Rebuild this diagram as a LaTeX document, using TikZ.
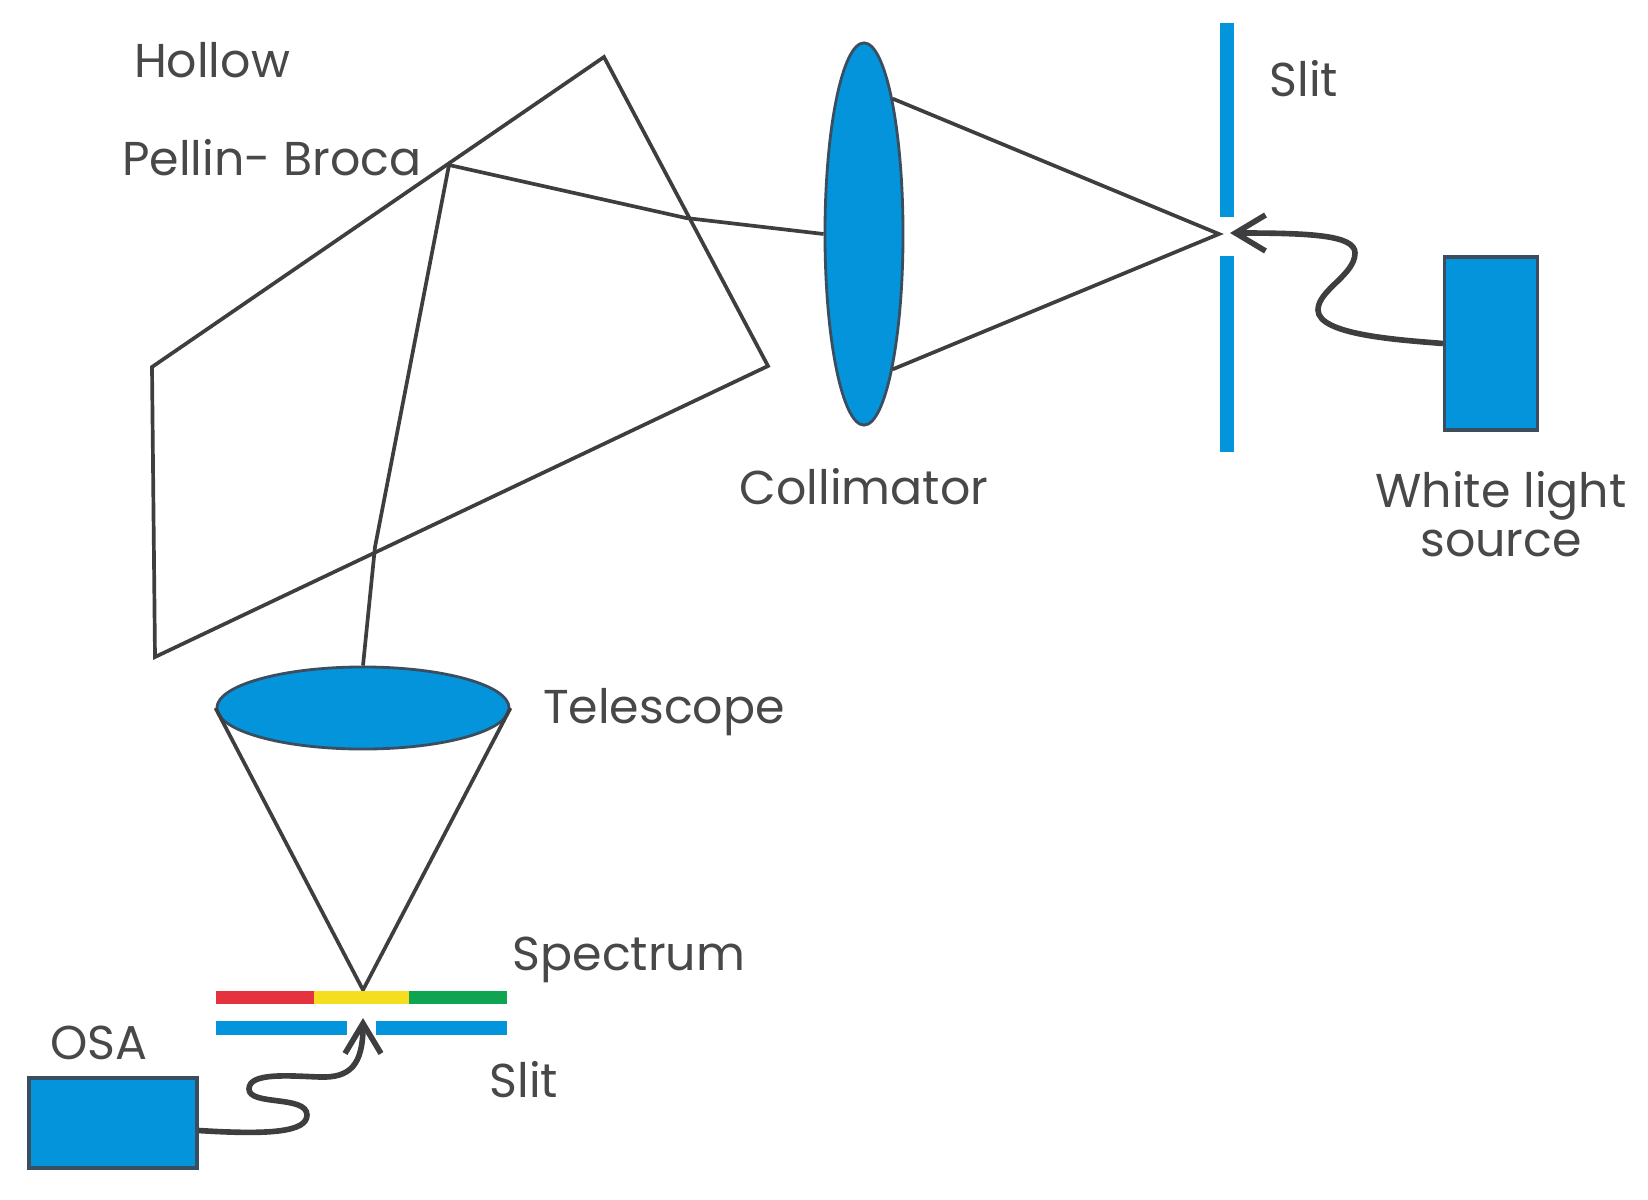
\documentclass[tikz,border=0pt]{standalone}
\usepackage{fontspec}
\setmainfont{Poppins}
\usepackage{xcolor}
\usetikzlibrary{positioning,arrows.meta,shapes.geometric}
\definecolor{optblue}{RGB}{4,148,220}
\definecolor{optedge}{RGB}{58,78,96}
\definecolor{rayline}{RGB}{62,62,64}
\definecolor{labelgray}{RGB}{72,72,74}
\definecolor{specred}{RGB}{228,50,62}
\definecolor{specyellow}{RGB}{245,222,30}
\definecolor{specgreen}{RGB}{14,164,82}

\begin{document}
\begin{tikzpicture}[
  x=0.01cm,y=-0.01cm,
  every node/.style={font=\fontsize{13.5}{14}\selectfont,text=labelgray},
  ray/.style={draw=rayline,line width=1.05pt,line join=miter},
  fibre/.style={draw=rayline,line width=1.6pt,-{Straight Barb[length=0.3cm,width=0.36cm,line width=1.6pt]}},
  lens/.style={ellipse,draw=optedge,line width=0.8pt,fill=optblue,inner sep=0pt},
  srcbox/.style={rectangle,draw=optedge,line width=0.9pt,fill=optblue,inner sep=0pt},
  slitbar/.style={draw=optblue,line width=0.14cm},
  specbar/.style={line width=0.13cm}
]
  \useasboundingbox (0,0) rectangle (1648,1200);

  % prism corners
  \coordinate (ptop)   at (604,57);
  \coordinate (pright) at (768,366);
  \coordinate (pbot)   at (155,657);
  \coordinate (pleft)  at (152,367);
  \coordinate (pbend)  at (449,165);
  \coordinate (pin)    at (686,218);
  \coordinate (pout)   at (375,547);
  \coordinate (focus)  at (1219,234);
  \coordinate (specmid) at (363,990);

  \draw[ray] (ptop)--(pright)--(pbot)--(pleft)--cycle;

  % optics
  \node[lens,minimum width=0.78cm,minimum height=3.82cm] (coll) at (864,234) {};
  \node[lens,minimum width=2.92cm,minimum height=0.82cm] (tele) at (363,708) {};
  \node[srcbox,minimum width=0.93cm,minimum height=1.73cm] (white) at (1491,343.5) {};
  \node[srcbox,minimum width=1.68cm,minimum height=0.90cm] (osa) at (113,1123) {};

  % rays
  \draw[ray] (coll.78)--(focus)--(coll.-78);
  \draw[ray] (coll.west)--(pin)--(pbend)--(pout)--(tele.north);
  \draw[ray] (tele.west)--(specmid)--(tele.east);

  % slits
  \draw[slitbar] (1227,23)--(1227,217);
  \draw[slitbar] (1227,256)--(1227,452);
  \draw[slitbar] (216,1028)--(347,1028);
  \draw[slitbar] (376,1028)--(507,1028);

  % spectrum
  \draw[specbar,specred] (216,997)--(314,997);
  \draw[specbar,specyellow] (314,997)--(409,997);
  \draw[specbar,specgreen] (409,997)--(507,997);

  % fibres
  \coordinate (whitein) at (1230,233);
  \coordinate (osain)   at (363,1018);
  \draw[fibre] (white.west) .. controls (1400,340) and (1318,335) .. (1318,310)
    .. controls (1318,290) and (1355,275) .. (1355,253)
    .. controls (1355,235) and (1310,233) .. (whitein);
  \draw[fibre] (osa.-5) .. controls (270,1135) and (307,1132) .. (307,1115)
    .. controls (307,1095) and (249,1106) .. (249,1089)
    .. controls (249,1072) and (290,1076) .. (320,1077)
    .. controls (350,1078) and (363,1065) .. (osain);

  % labels
  \node (hollow) at (212,60) {Hollow};
  \node (pellin) at (272,158) {Pellin- Broca};
  \node (slita) at (1304,79) {Slit};
  \node (colltxt) at (864,487) {Collimator};
  \node[align=center] (whitetxt) at (1501,514) {White light\\source};
  \node (teletxt) at (664,712) {Telescope};
  \node (spectxt) at (629,960) {Spectrum};
  \node (osatxt) at (99,1043) {OSA};
  \node (slitb) at (524,1080) {Slit};
\end{tikzpicture}
\end{document}
